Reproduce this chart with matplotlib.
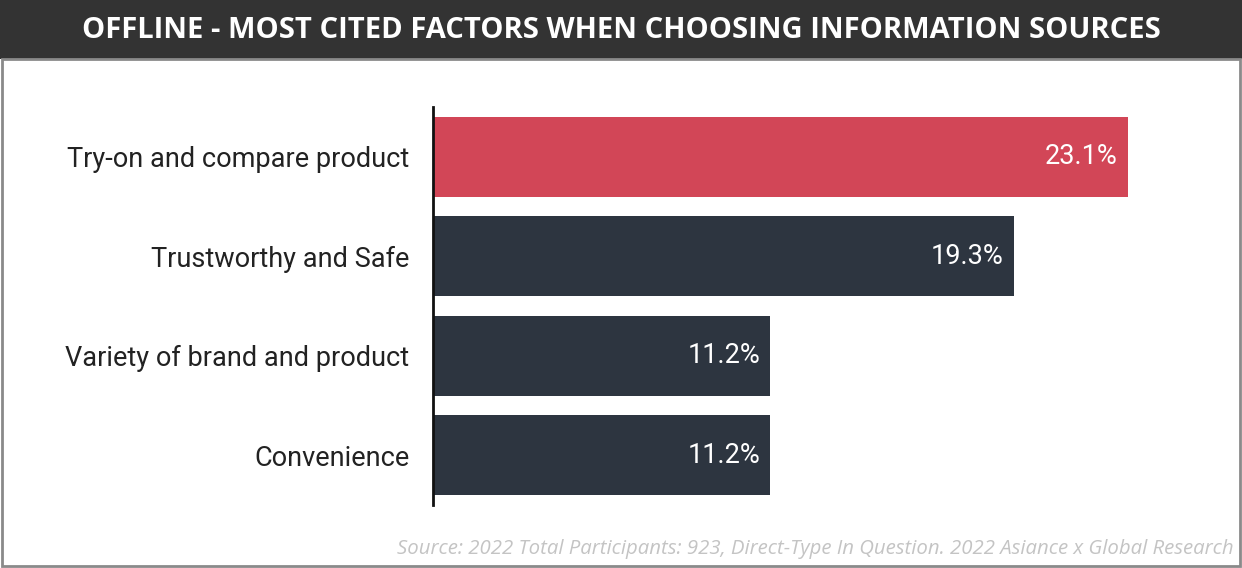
import matplotlib.pyplot as plt
from matplotlib.patches import Rectangle

categories = ["Try-on and compare product", "Trustworthy and Safe",
              "Variety of brand and product", "Convenience"]
values = [23.1, 19.3, 11.2, 11.2]
colors = ["#d24657", "#2d3540", "#2d3540", "#2d3540"]
title = "OFFLINE - MOST CITED FACTORS WHEN CHOOSING INFORMATION SOURCES"
source = "Source: 2022 Total Participants: 923, Direct-Type In Question. 2022 Asiance x Global Research"

fig = plt.figure(figsize=(12.42, 5.68), dpi=100)
fig.patch.set_facecolor("white")

# title bar and outer frame
fig.patches.append(Rectangle((0, 1 - 59 / 568), 1, 59 / 568, transform=fig.transFigure,
                             facecolor="#333333", edgecolor="none", zorder=0))
fig.patches.append(Rectangle((0.002, 0.004), 0.996, 1 - 59 / 568 - 0.004, transform=fig.transFigure,
                             facecolor="none", edgecolor="#8a8a8a", lw=2, zorder=1))
fig.text(0.5, 1 - 31 / 568, title, ha="center", va="center", color="white",
         fontsize=21, fontweight="bold", family="Open Sans")

ax = fig.add_axes([433 / 1242, 1 - 505 / 568, 752 / 1242, 398 / 568])
y = range(len(categories))
ax.barh(y, values, height=0.8, color=colors)
ax.set_xlim(0, 25)
ax.set_ylim(3.5, -0.5)
ax.set_yticks(list(y))
ax.set_yticklabels(categories, fontsize=19.5, family="Roboto", color="#222222")
ax.tick_params(axis="y", length=0, pad=17)
ax.set_xticks([])
for s in ["top", "right", "bottom"]:
    ax.spines[s].set_visible(False)
ax.spines["left"].set_linewidth(2)
ax.spines["left"].set_color("#111111")

for i, v in enumerate(values):
    ax.text(v - 0.33, i, f"{v}%", ha="right", va="center", color="white",
            fontsize=19.5, family="Roboto")

fig.text(1 - 8 / 1242, 1 - 549 / 568, source, ha="right", va="center", color="#c4c4c4",
         fontsize=14.7, style="italic", family="Open Sans")

fig.savefig("out.png", dpi=100)
